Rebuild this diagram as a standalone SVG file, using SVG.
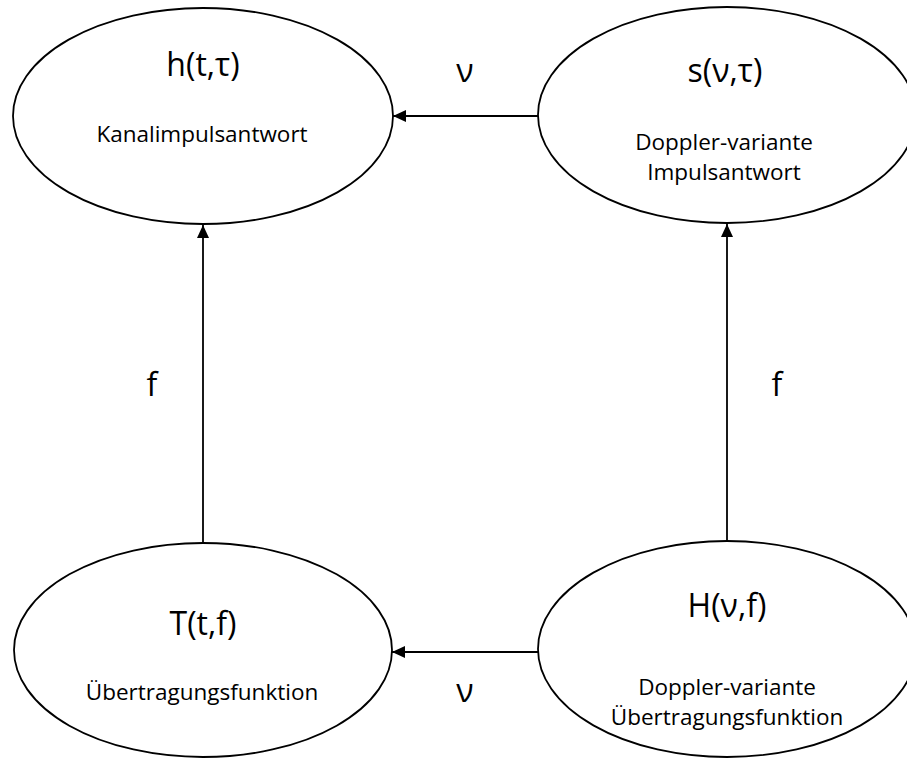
<svg xmlns="http://www.w3.org/2000/svg" width="907" height="758" viewBox="0 0 907 758">
  <style>
    .node ellipse { fill: #ffffff; stroke: #000000; stroke-width: 1.8; }
    .title { font-family: "Open Sans", "Liberation Sans", sans-serif; font-size: 32px; fill: #000; text-anchor: middle; }
    .sub { font-family: "Open Sans", "Liberation Sans", sans-serif; font-size: 22.5px; fill: #000; text-anchor: middle; }
    .lbl { font-family: "Open Sans", "Liberation Sans", sans-serif; font-size: 32px; fill: #000; text-anchor: middle; }
    .conn line { stroke: #000; stroke-width: 1.8; fill: none; marker-end: url(#arrow); }
  </style>
  <defs>
    <marker id="arrow" markerUnits="userSpaceOnUse" markerWidth="14" markerHeight="14" viewBox="0 0 14 14" refX="13" refY="7" orient="auto">
      <path d="M0,1 L13,7 L0,13 Z" fill="#000"/>
    </marker>
  </defs>
  <rect width="907" height="758" fill="#ffffff"/>
  <g id="connectors" class="conn">
    <line x1="538" y1="116" x2="393" y2="116"/>
    <line x1="538" y1="652" x2="392" y2="652"/>
    <line x1="203" y1="543" x2="203" y2="225"/>
    <line x1="727" y1="541" x2="727" y2="224"/>
  </g>
  <g id="labels">
    <text class="lbl" x="465" y="82">ν</text>
    <text class="lbl" x="465" y="702">ν</text>
    <text class="lbl" x="152" y="396">f</text>
    <text class="lbl" x="777" y="396">f</text>
  </g>
  <g id="node-h" class="node">
    <ellipse cx="203" cy="116" rx="190" ry="108"/>
    <text class="title" x="203" y="76">h(t,τ)</text>
    <text class="sub" x="202" y="142">Kanalimpulsantwort</text>
  </g>
  <g id="node-s" class="node">
    <ellipse cx="727" cy="115" rx="189" ry="108"/>
    <text class="title" x="725" y="82">s(ν,τ)</text>
    <text class="sub" x="724" y="150">Doppler-variante</text>
    <text class="sub" x="724" y="180">Impulsantwort</text>
  </g>
  <g id="node-T" class="node">
    <ellipse cx="203" cy="650" rx="189" ry="107"/>
    <text class="title" x="203" y="635">T(t,f)</text>
    <text class="sub" x="202" y="700">Übertragungsfunktion</text>
  </g>
  <g id="node-H" class="node">
    <ellipse cx="727" cy="649" rx="189" ry="108"/>
    <text class="title" x="727" y="617">H(ν,f)</text>
    <text class="sub" x="727" y="695">Doppler-variante</text>
    <text class="sub" x="727" y="725">Übertragungsfunktion</text>
  </g>
</svg>
